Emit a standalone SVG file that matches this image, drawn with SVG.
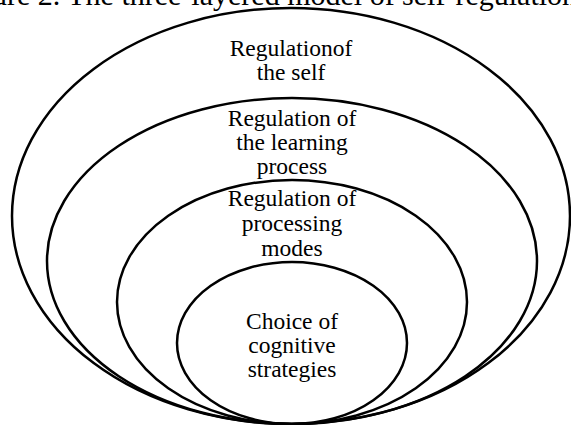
<svg xmlns="http://www.w3.org/2000/svg" width="571" height="425" viewBox="0 0 571 425">
<style>
.e{fill:none;stroke:#000;stroke-width:2.5}
.t{font-family:"Liberation Serif","Times New Roman",serif;font-size:23.5px;fill:#000;text-anchor:middle}
.title{font-family:"Liberation Serif","Times New Roman",serif;font-size:30px;fill:#000}
</style>
<rect width="571" height="425" fill="#fff"/>
<text class="title" x="-48" y="5">Figure 2. The three-layered model of self-regulation</text>
<g id="self">
<ellipse class="e" cx="291" cy="216" rx="279" ry="208"/>
<text class="t" x="291" y="56">Regulationof</text>
<text class="t" x="291" y="80">the self</text>
</g>
<g id="learning">
<ellipse class="e" cx="292" cy="261" rx="245" ry="163"/>
<text class="t" x="292" y="126">Regulation of</text>
<text class="t" x="292" y="150">the learning</text>
<text class="t" x="292" y="174">process</text>
</g>
<g id="processing">
<ellipse class="e" cx="292" cy="302" rx="175" ry="122"/>
<text class="t" x="292" y="206">Regulation of</text>
<text class="t" x="292" y="231">processing</text>
<text class="t" x="292" y="256">modes</text>
</g>
<g id="strategies">
<ellipse class="e" cx="292" cy="343" rx="115" ry="81"/>
<text class="t" x="292" y="329">Choice of</text>
<text class="t" x="292" y="353">cognitive</text>
<text class="t" x="292" y="377">strategies</text>
</g>
<g id="connectors"/>
</svg>
